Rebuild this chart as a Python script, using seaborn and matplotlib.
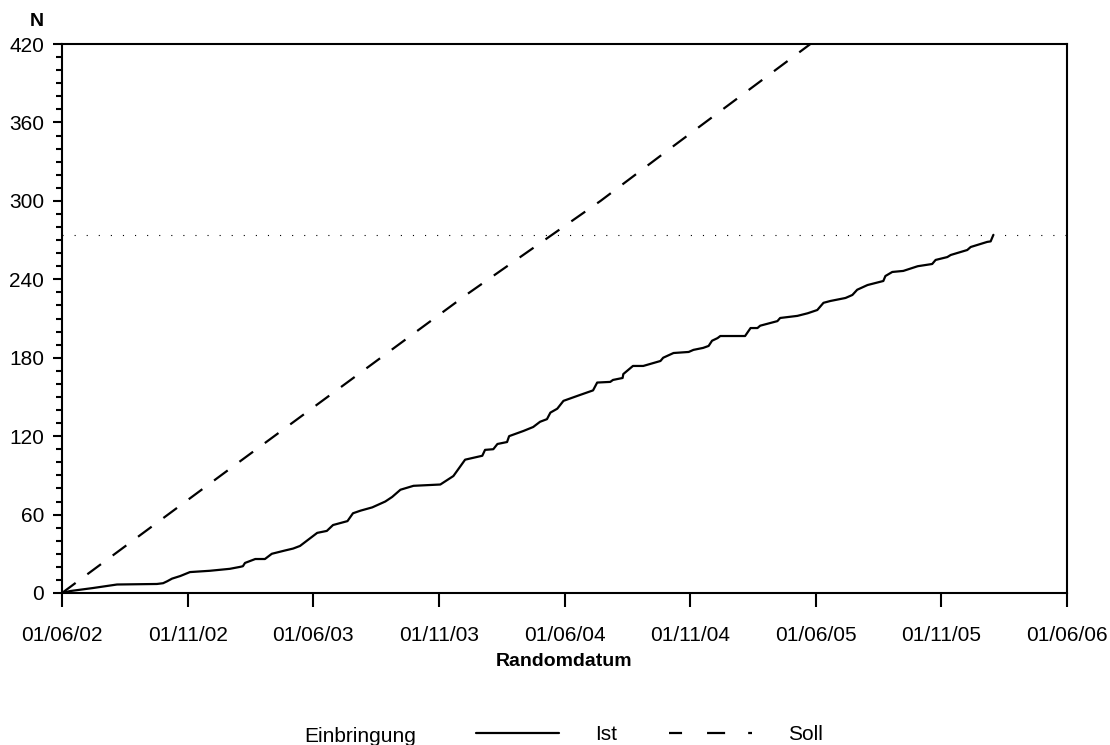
import numpy as np
import pandas as pd
import matplotlib
matplotlib.use("Agg")
import matplotlib.pyplot as plt
from matplotlib.lines import Line2D
from matplotlib.ticker import MultipleLocator
import seaborn as sns

# Cumulative randomisations (days since 01/06/02)
ist_tage = [0, 12, 45, 80, 138, 147, 153, 160, 172, 186, 215, 244, 259, 263, 266,
            281, 295, 305, 324, 336, 346, 356, 371, 385, 394, 415, 423, 434, 451,
            470, 480, 492, 511, 550, 569, 586, 611, 615, 627, 633, 647, 650, 671,
            685, 695, 705, 710, 720, 729, 753, 772, 778, 797, 801, 815, 816, 830,
            845, 870, 874, 889, 911, 918, 932, 940, 945, 953, 957, 993, 1001, 1011,
            1015, 1040, 1044, 1069, 1084, 1098, 1107, 1117, 1139, 1149, 1156, 1171,
            1194, 1197, 1207, 1223, 1244, 1265, 1270, 1287, 1292, 1316, 1321, 1345,
            1350, 1354]
ist_n = [0, 1.5, 3.8, 6.5, 6.9, 7.5, 9, 11, 13, 16, 17, 18.5, 20, 20.5, 23,
         26, 26, 30, 32.5, 34, 36, 40, 46, 47.5, 52, 55, 61, 63, 65.5,
         70, 73.5, 79, 82, 83, 89.5, 102, 105, 109.5, 110, 114, 115.5, 120, 124,
         127, 131, 133, 138, 141, 147, 151.5, 155, 161, 161.5, 163, 164.5, 167.5, 173.7,
         173.7, 177.5, 180, 183.6, 184.4, 186, 187.5, 189, 193, 195, 196.6, 196.6, 202.7, 202.7,
         204.5, 208, 210.4, 212, 214, 216.5, 222, 223.4, 225.7, 228, 232, 235.6,
         238.7, 242.5, 245.6, 246.4, 250, 251.7, 254.8, 257, 258.6, 262.4, 264.7, 268.6,
         269, 274]

# Planned recruitment
soll_tage = [0, 244, 590, 783, 884, 1088]
soll_n = [0, 95, 229, 300, 340, 420]

ziel = 274

x_ticks_labels = ["01/06/02", "01/11/02", "01/06/03", "01/11/03", "01/06/04",
                  "01/11/04", "01/06/05", "01/11/05", "01/06/06"]
x_max = 1461
y_max = 420

sns.set_theme(style="white")
plt.rcParams["font.family"] = ["Liberation Sans", "DejaVu Sans"]
plt.rcParams["lines.scale_dashes"] = False
plt.rcParams["text.color"] = "black"

fig = plt.figure(figsize=(11.1, 7.45), dpi=100)
ax = fig.add_axes([62 / 1110, 1 - 593 / 745, (1067 - 62) / 1110, (593 - 44) / 745])

df_ist = pd.DataFrame({"tag": ist_tage, "n": ist_n})
df_soll = pd.DataFrame({"tag": soll_tage, "n": soll_n})

sns.lineplot(data=df_ist, x="tag", y="n", ax=ax, color="black", linewidth=1.6,
             estimator=None, sort=False)
sns.lineplot(data=df_soll, x="tag", y="n", ax=ax, color="black", linewidth=1.6,
             estimator=None, sort=False, linestyle=(0, (12.2, 10.5)))
ax.axhline(ziel, color="black", linewidth=0.8, linestyle=(0, (0.8, 7.9)))

ax.set_xlim(0, x_max)
ax.set_ylim(0, y_max)
ax.set_xticks(np.linspace(0, x_max, len(x_ticks_labels)))
ax.set_xticklabels(x_ticks_labels)
ax.yaxis.set_major_locator(MultipleLocator(60))
ax.yaxis.set_minor_locator(MultipleLocator(10))
ax.set_xlabel("")
ax.set_ylabel("")

for s in ax.spines.values():
    s.set_visible(True)
    s.set_color("black")
    s.set_linewidth(1.5)

ax.tick_params(axis="x", which="major", direction="out", length=10, width=1.5,
               colors="black", labelsize=15, pad=14, bottom=True)
ax.tick_params(axis="y", which="major", direction="out", length=6.7, width=1.5,
               colors="black", labelsize=15, pad=6, left=True)
ax.tick_params(axis="y", which="minor", direction="out", length=4.3, width=1.5,
               colors="black", left=True)

fig.text(37 / 1110, 1 - 21 / 745, "N", fontsize=14, fontweight="bold",
         ha="center", va="center", color="black")
fig.text(564.5 / 1110, 1 - 661 / 745, "Randomdatum", fontsize=14,
         fontweight="bold", ha="center", va="center", color="black")

fig.text(360 / 1110, 1 - 737 / 745, "Einbringung", fontsize=15,
         ha="center", va="center", color="black")
handles = [Line2D([], [], color="black", linewidth=1.6),
           Line2D([], [], color="black", linewidth=1.6,
                  linestyle=(0, (9.4, 18, 13, 16.6)))]
fig.legend(handles, ["Ist", "Soll"], ncol=2, loc="center left",
           bbox_to_anchor=(476 / 1110, 1 - 735 / 745), frameon=False,
           fontsize=15, handlelength=4.0, handletextpad=1.7, columnspacing=2.5,
           borderpad=0, borderaxespad=0, labelcolor="black")

fig.savefig("out.png", dpi=100, facecolor="white")
